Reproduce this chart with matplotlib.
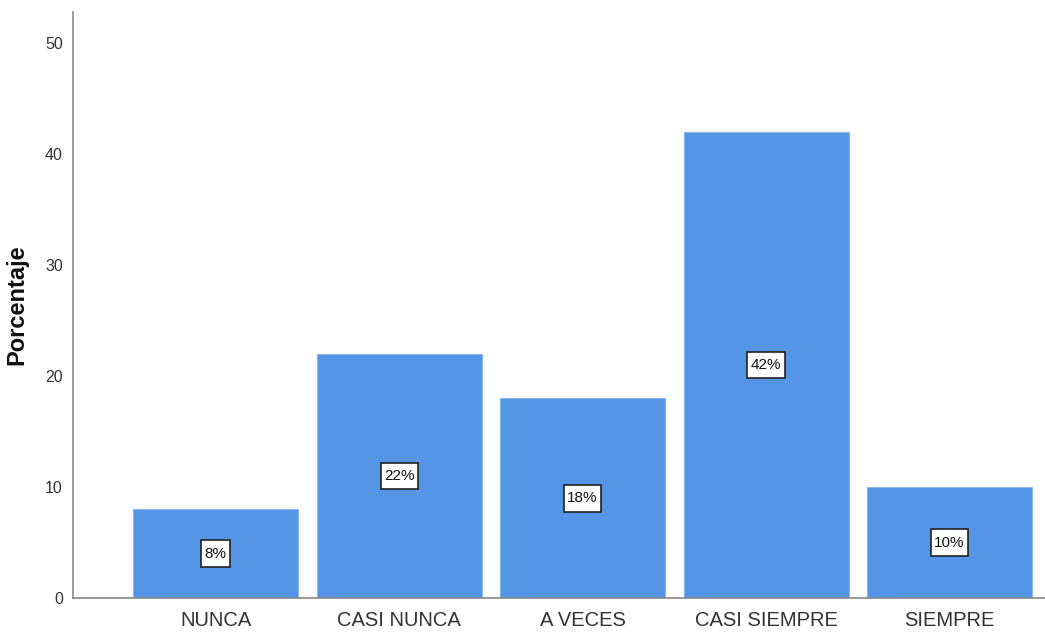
import matplotlib
matplotlib.use("Agg")
import matplotlib.pyplot as plt
from matplotlib.path import Path

categories = ["NUNCA", "CASI NUNCA", "A VECES", "CASI SIEMPRE", "SIEMPRE"]
percentages = [8, 22, 18, 42, 10]
y_ticks = [0, 10, 20, 30, 40, 50]

plt.rcParams["font.family"] = ["Liberation Sans", "DejaVu Sans"]


def tall_box(x0, y0, width, height, mutation_size):
    """Rectangular label box with more vertical than horizontal padding."""
    px = 0.22 * mutation_size
    py = 0.42 * mutation_size
    x0, y0 = x0 - px, y0 - py
    x1, y1 = x0 + width + 2 * px, y0 + height + 2 * py
    return Path([(x0, y0), (x1, y0), (x1, y1), (x0, y1), (x0, y0)], closed=True)


fig = plt.figure(figsize=(10.45, 6.32), dpi=100)
ax = fig.add_axes([72.5 / 1045, 1 - 598 / 632, 1 - 72.5 / 1045, (598 - 12) / 632])

x = list(range(len(categories)))
ax.bar(x, percentages, width=0.9, color="#5595E5",
       edgecolor="#8AB6EE", linewidth=0.8, zorder=2)

for xi, v in zip(x, percentages):
    ax.text(xi, v / 2, f"{v}%", ha="center", va="center", fontsize=11,
            color="#111111",
            bbox=dict(boxstyle=tall_box, facecolor="white",
                      edgecolor="#222222", linewidth=1.2), zorder=3)

ax.set_xlim(-0.78, 4.52)
ax.set_ylim(0, 52.8)
ax.set_yticks(y_ticks)
ax.set_xticks(x)
ax.set_xticklabels(categories)

ax.tick_params(axis="y", length=0, pad=7, labelsize=11.5, labelcolor="#333333")
ax.tick_params(axis="x", length=0, pad=9, labelsize=14.5, labelcolor="#333333")

for side in ("top", "right"):
    ax.spines[side].set_visible(False)
for side in ("left", "bottom"):
    ax.spines[side].set_color("#888888")
    ax.spines[side].set_linewidth(1.2)

ax.set_ylabel("Porcentaje", fontsize=17, fontweight="bold", color="#111111",
              labelpad=12)

fig.savefig("out.png", dpi=100)
